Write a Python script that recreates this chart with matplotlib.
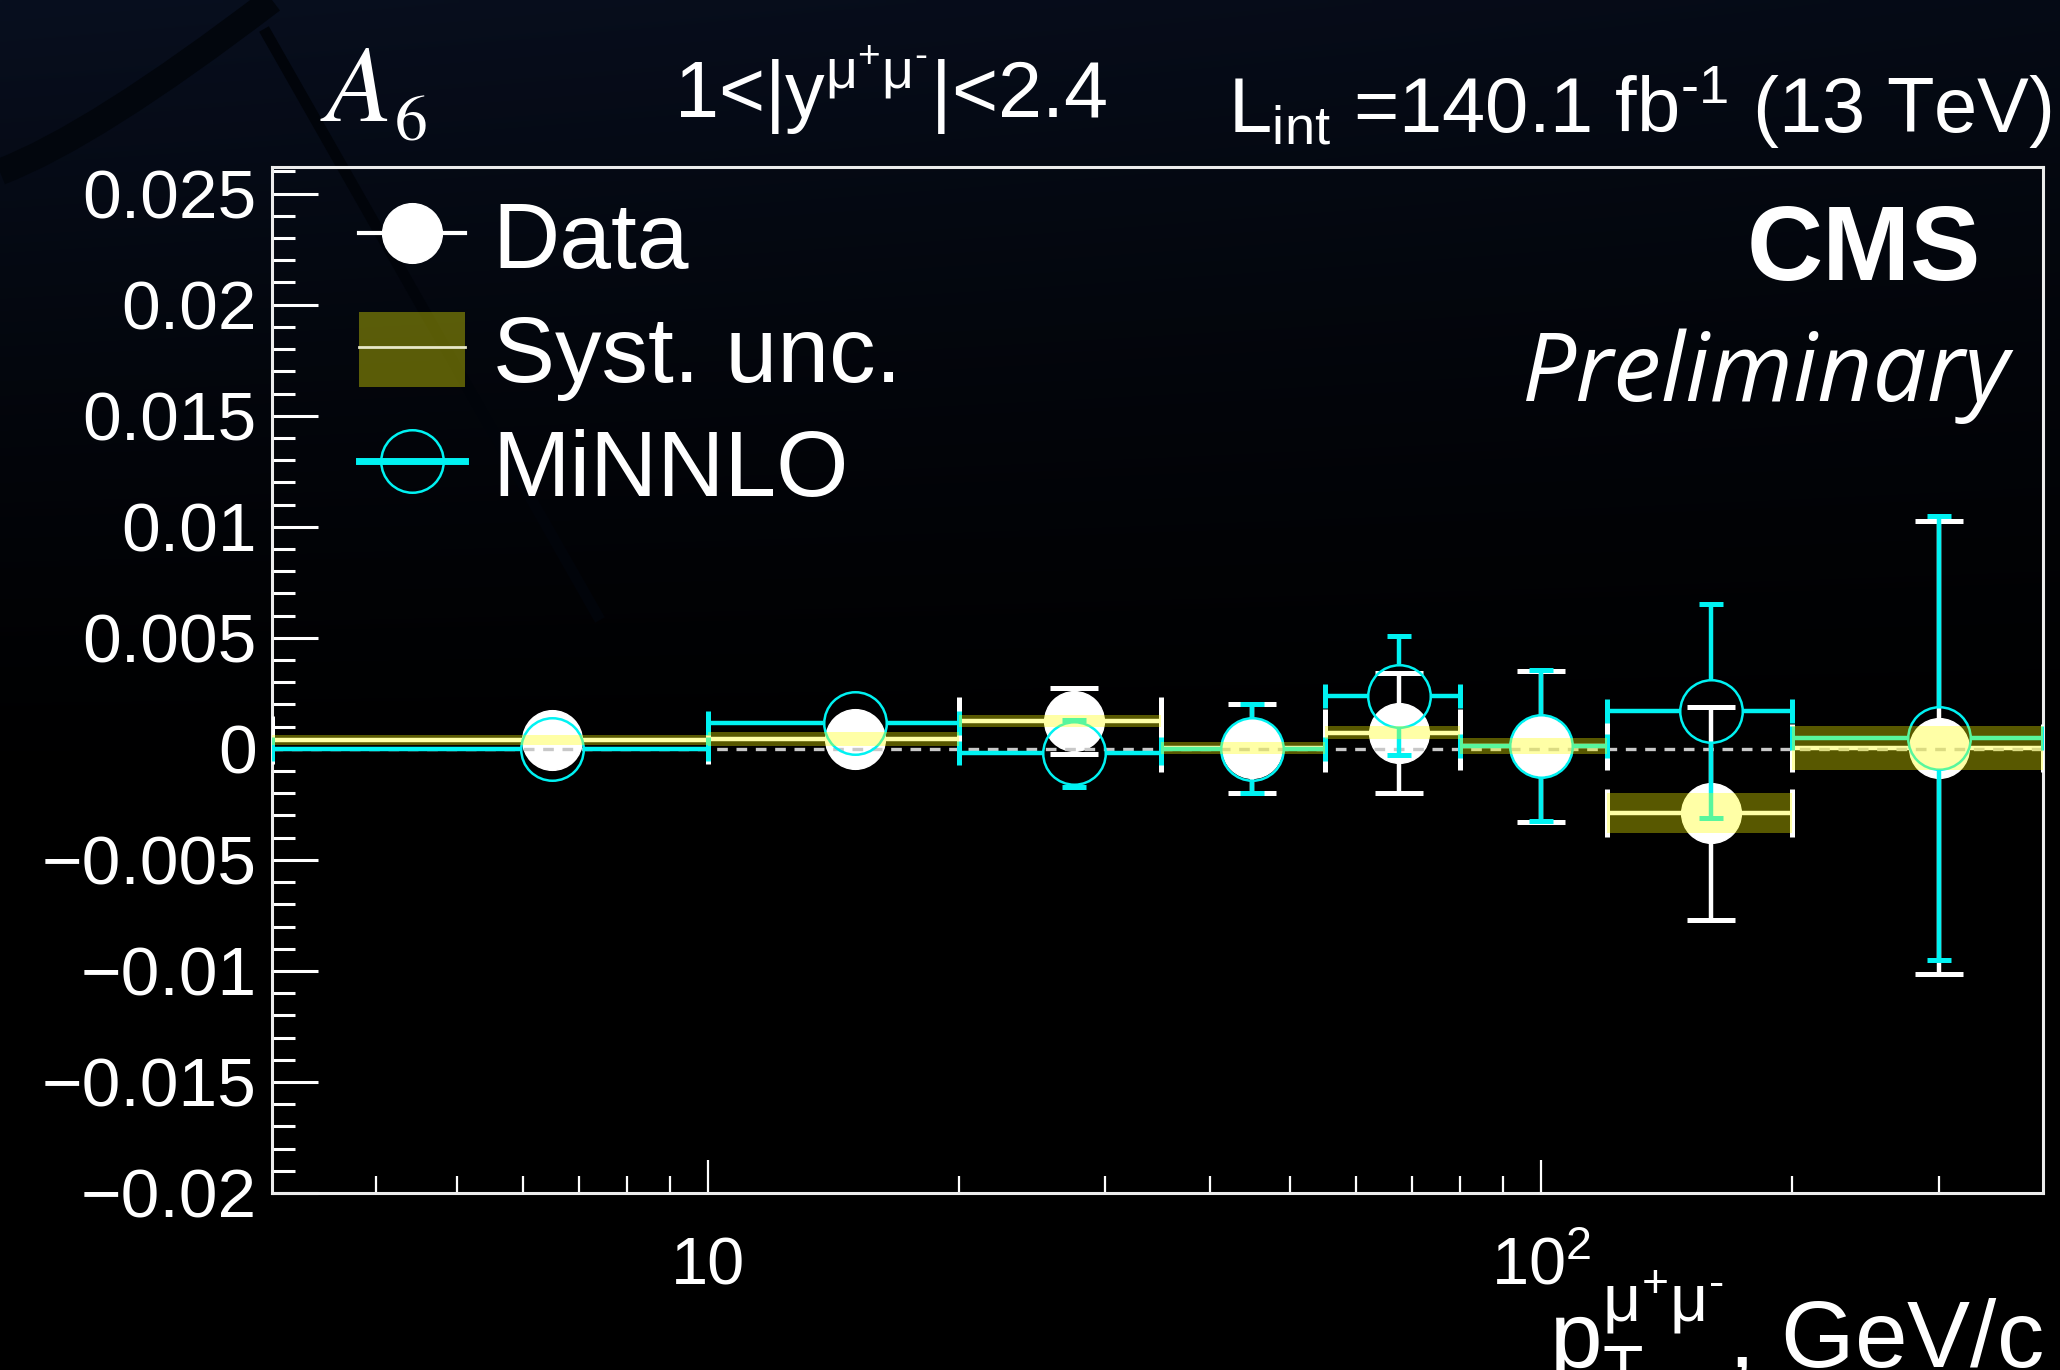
import numpy as np
import matplotlib
matplotlib.use('Agg')
import matplotlib.pyplot as plt
from matplotlib.lines import Line2D
from matplotlib.patches import Patch, PathPatch
from matplotlib.path import Path
from matplotlib.ticker import MultipleLocator, NullFormatter

# ---------------- data ----------------
bin_low = [3, 10, 20, 35, 55, 80, 120, 200]
bin_high = [10, 20, 35, 55, 80, 120, 200, 400]
bin_center = [6.5, 15, 27.5, 45, 67.5, 100, 160, 300]

data_val = [0.0004, 0.00045, 0.00125, 0.00003, 0.00073, 0.00012, -0.0029, 0.00004]
data_stat = [0.0004, 0.0005, 0.0015, 0.002, 0.0027, 0.0034, 0.0048, 0.0102]
data_syst = [0.00022, 0.0003, 0.00027, 0.00028, 0.0003, 0.00035, 0.0009, 0.001]

minnlo_val = [0.0, 0.00115, -0.0002, 0.0, 0.0024, 0.00015, 0.0017, 0.00047]
minnlo_err = [0.0003, 0.0004, 0.0015, 0.002, 0.00267, 0.0034, 0.0048, 0.0100]

ytick_vals = [-0.02, -0.015, -0.01, -0.005, 0.0, 0.005, 0.01, 0.015, 0.02, 0.025]
ytick_labels = ['\u22120.02', '\u22120.015', '\u22120.01', '\u22120.005', '0',
                '0.005', '0.01', '0.015', '0.02', '0.025']
xtick_vals = [10, 100]
xtick_labels = ['10', '$10^{2}$']
xminor_vals = [4, 5, 6, 7, 8, 9, 20, 30, 40, 50, 60, 70, 80, 90, 200, 300]
legend_labels = ['Data', 'Syst. unc.', 'MiNNLO']

XMIN, XMAX = 3, 400
YMIN, YMAX = -0.02, 0.0262

# ---------------- style ----------------
plt.rcParams['font.family'] = ['Liberation Sans', 'DejaVu Sans']
plt.rcParams['mathtext.fontset'] = 'custom'
plt.rcParams['mathtext.rm'] = 'Liberation Sans'
plt.rcParams['mathtext.it'] = 'Liberation Sans:italic'
plt.rcParams['mathtext.bf'] = 'Liberation Sans:bold'
plt.rcParams['mathtext.default'] = 'regular'

W, H = 2060, 1370
DPI = 100
fig = plt.figure(figsize=(W / DPI, H / DPI), dpi=DPI, facecolor='black')

# background gradient (slide)
bg = fig.add_axes([0, 0, 1, 1], zorder=-10)
bg.set_axis_off()
gh, gw = 274, 412
yy = np.linspace(0, 1, gh)[:, None]
xx = np.linspace(0, 1, gw)[None, :]
fade = np.clip(1 - yy / 0.6, 0, 1) ** 1.4
top = np.array([8, 15, 31]) / 255.0
img = fade[..., None] * top[None, None, :] * (1 - 0.3 * xx[..., None])
bg.imshow(img, extent=[0, 1, 0, 1], aspect='auto', origin='upper', interpolation='bilinear')
bg.set_xlim(0, 1)
bg.set_ylim(0, 1)


def fpt(px, py):
    return (px / W, 1 - py / H)


arc = Path([fpt(0, 172), fpt(94, 136), fpt(272, 0)], [Path.MOVETO, Path.CURVE3, Path.CURVE3])
bg.add_patch(PathPatch(arc, fill=False, edgecolor='#02060d', lw=19, capstyle='butt'))
p0, p1 = fpt(264, 29), fpt(600, 620)
bg.plot([p0[0], p1[0]], [p0[1], p1[1]], color='#01040a', lw=8, solid_capstyle='butt')

# ---------------- main axes ----------------
AX_L, AX_R, AX_T, AX_B = 272, 2043, 167, 1193
ax = fig.add_axes([AX_L / W, 1 - AX_B / H, (AX_R - AX_L) / W, (AX_B - AX_T) / H])
ax.set_facecolor('none')
ax.set_xscale('log')
ax.set_xlim(XMIN, XMAX)
ax.set_ylim(YMIN, YMAX)

c = np.array(bin_center, dtype=float)
blo = np.array(bin_low, dtype=float)
bhi = np.array(bin_high, dtype=float)
xlo = c - blo
xhi = bhi - c
cyan = '#00f2f2'

# data points
ax.errorbar(bin_center, data_val, yerr=data_stat, xerr=[xlo, xhi], fmt='o', ms=43,
            mfc='white', mec='white', ecolor='white', elinewidth=3.2, capsize=17,
            capthick=3.6, zorder=3)
ax.axhline(0, color='#c8c8c8', lw=2.4, ls=(0, (3.2, 2.6)), zorder=4)

# MiNNLO: open circles with error bars that stop at the marker edge (ROOT style)
ms_mc = 45
r_px = ms_mc * DPI / 72 / 2
ry = r_px * (YMAX - YMIN) / (AX_B - AX_T)
rx = 10 ** (r_px * np.log10(XMAX / XMIN) / (AX_R - AX_L))
mv = np.array(minnlo_val)
me = np.array(minnlo_err)
big = me > ry
ax.plot(c, mv, 'o', ms=ms_mc, mfc='none', mec=cyan, mew=1.8, zorder=5)
ax.vlines(c[big], (mv + ry)[big], (mv + me)[big], color=cyan, lw=3.2, zorder=5)
ax.vlines(c[big], (mv - me)[big], (mv - ry)[big], color=cyan, lw=3.2, zorder=5)
ax.plot(c[big], (mv + me)[big], ls='none', marker='_', ms=17, mew=3.6, color=cyan, zorder=5)
ax.plot(c[big], (mv - me)[big], ls='none', marker='_', ms=17, mew=3.6, color=cyan, zorder=5)
ax.hlines(mv, blo, c / rx, color=cyan, lw=3.2, zorder=5)
ax.hlines(mv, c * rx, bhi, color=cyan, lw=3.2, zorder=5)
ax.plot(blo, mv, ls='none', marker='|', ms=17, mew=3.6, color=cyan, zorder=5)
ax.plot(bhi, mv, ls='none', marker='|', ms=17, mew=3.6, color=cyan, zorder=5)

# systematic band
dv = np.array(data_val)
ds = np.array(data_syst)
ax.bar(bin_low, 2 * ds, bottom=dv - ds, width=bhi - blo,
       align='edge', color='yellow', alpha=0.35, lw=0, zorder=6)

# ticks
ax.set_xticks(xtick_vals, labels=xtick_labels)
ax.set_xticks(xminor_vals, minor=True)
ax.xaxis.set_minor_formatter(NullFormatter())
ax.set_yticks(ytick_vals, labels=ytick_labels)
ax.yaxis.set_minor_locator(MultipleLocator(0.001))
ax.tick_params(axis='both', which='both', direction='in', colors='white',
               top=False, right=False)
ax.tick_params(axis='y', which='major', length=33, width=2.2, pad=11, labelsize=50)
ax.tick_params(axis='y', which='minor', length=16.5, width=2.2)
ax.tick_params(axis='x', which='major', length=24, width=1.6, pad=66, labelsize=48)
ax.tick_params(axis='x', which='minor', length=12, width=1.6)
for t in ax.xaxis.get_major_ticks():
    t.label1.set_verticalalignment('baseline')
for s in ax.spines.values():
    s.set_color('#ececec')
    s.set_linewidth(2.2)

# legend
h_data = Line2D([], [], color='white', lw=3, marker='o', ms=43, mfc='white', mec='white')
h_syst = (Patch(facecolor='yellow', alpha=0.35, lw=0),
          Line2D([], [], color='#e8e8c8', lw=2))
h_mc = Line2D([], [], color=cyan, lw=5, marker='o', ms=45, mfc='none', mec=cyan, mew=1.8)
ax.legend([h_data, h_syst, h_mc], legend_labels, loc='upper left',
          bbox_to_anchor=(0.049, 0.970), frameon=False, fontsize=67,
          handlelength=1.14, handleheight=0.87, handletextpad=0.3,
          labelspacing=0.27, borderpad=0, borderaxespad=0, labelcolor='white')

# texts
fig.text(320 / W, 1 - 121 / H, r'$\mathit{A}$', math_fontfamily='stix',
         fontsize=78, color='white', ha='left', va='baseline')
fig.text(394 / W, 1 - 139 / H, r'$\mathit{6}$', math_fontfamily='stix',
         fontsize=47, color='white', ha='left', va='baseline')
fig.text(674 / W, 1 - 118 / H, '1<|y$^{μ^{+}μ^{\u2010}}$|<2.4', fontsize=57,
         color='white', ha='left', va='baseline')
fig.text(1228 / W, 1 - 133 / H, 'L$_{int}$ =140.1 fb$^{\u20101}$ (13 TeV)', fontsize=56,
         color='white', ha='left', va='baseline')
fig.text(1981 / W, 1 - 280 / H, 'CMS', fontsize=76, fontweight='bold',
         color='white', ha='right', va='baseline')
fig.text(2010 / W, 1 - 401 / H, 'Preliminary', family=['Open Sans', 'DejaVu Sans'],
         style='italic', fontsize=69, color='white', ha='right', va='baseline')
fig.text(2043 / W, 1 - 1367 / H, 'p$_{T}^{μ^{+}μ^{\u2010}}$, GeV/c', fontsize=68,
         color='white', ha='right', va='baseline')

fig.savefig('out.png', dpi=DPI, facecolor='black')
